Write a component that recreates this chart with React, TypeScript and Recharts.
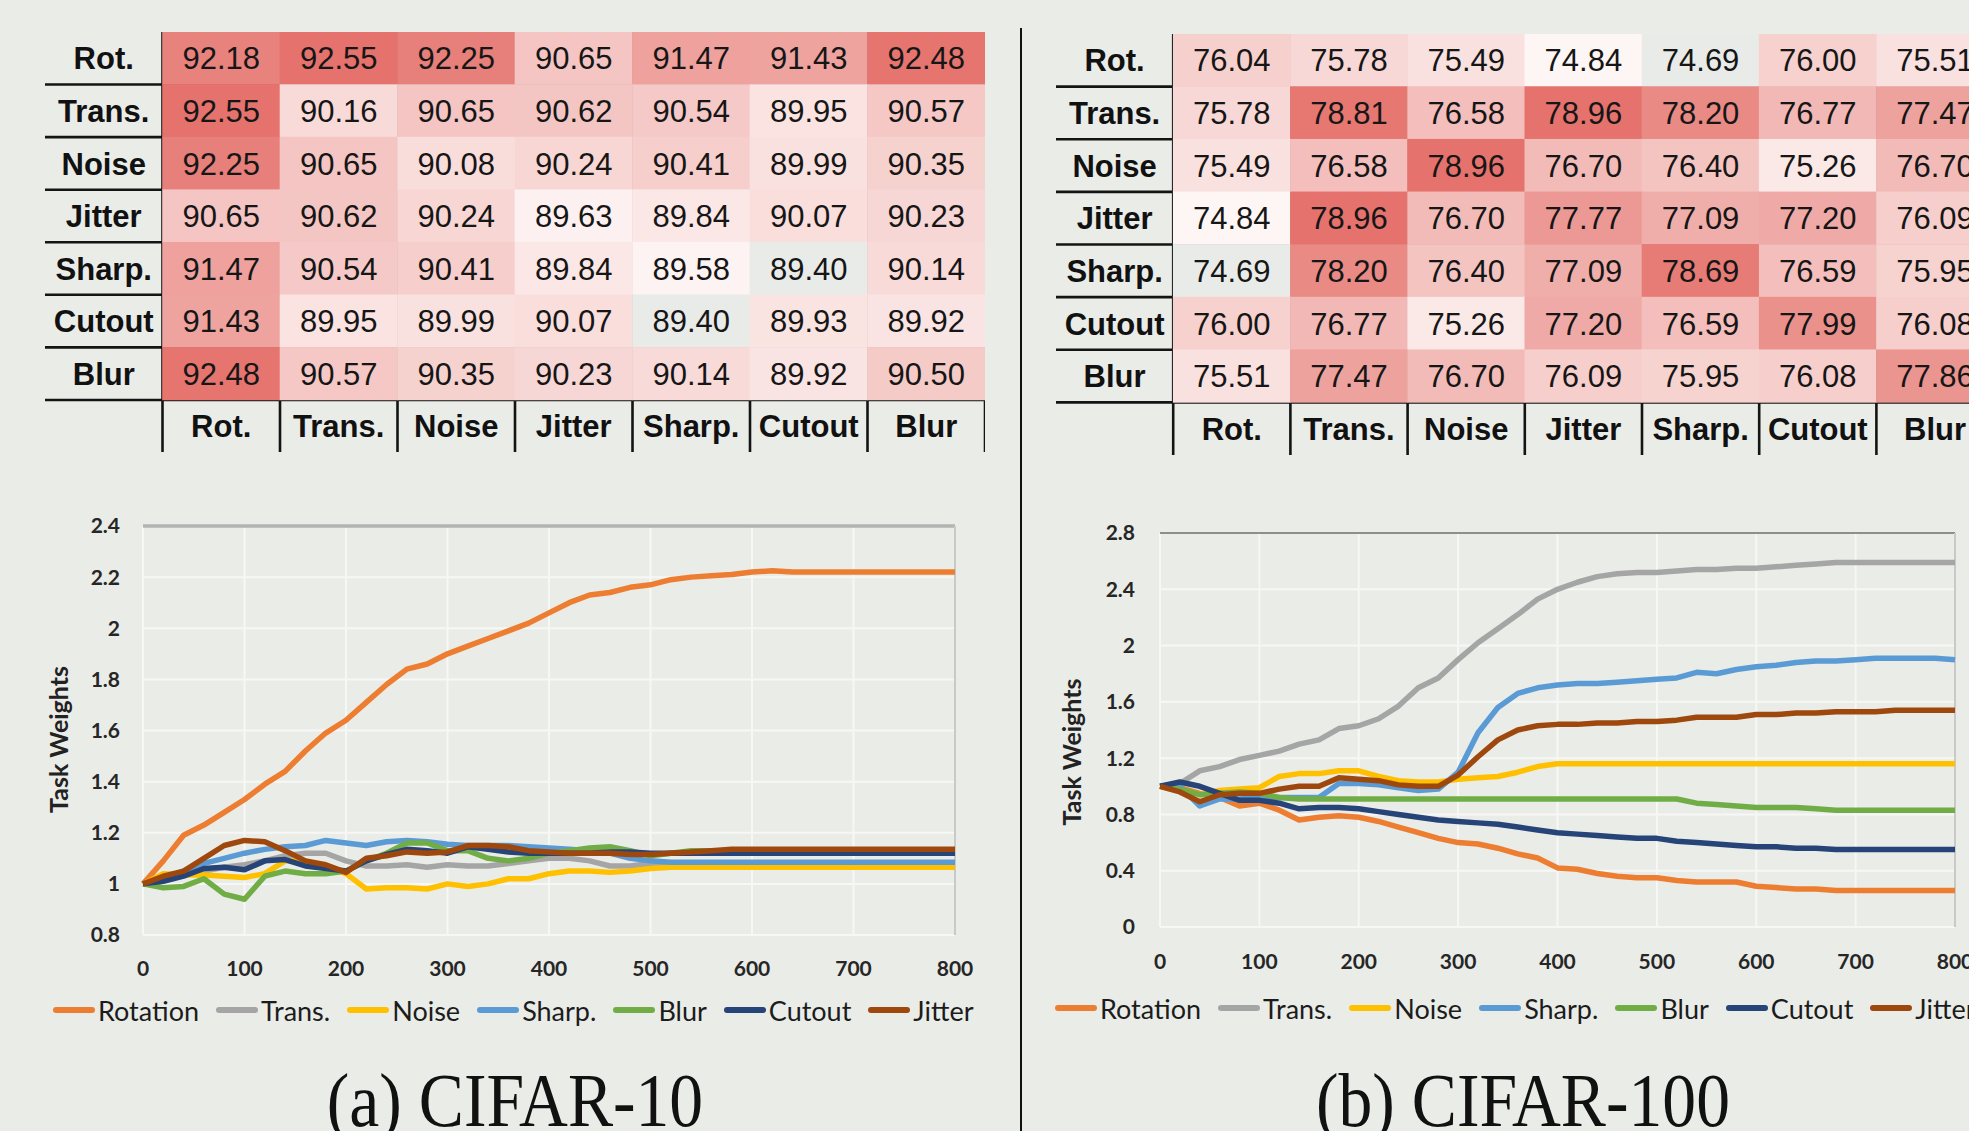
import React from 'react';
import {
  LineChart, Line, XAxis, YAxis, CartesianGrid, Legend, ReferenceLine,
  ScatterChart, Scatter,
} from 'recharts';

// ---------- Heatmap data ----------
const rowLabels = ['Rot.', 'Trans.', 'Noise', 'Jitter', 'Sharp.', 'Cutout', 'Blur'];
const colLabels = ['Rot.', 'Trans.', 'Noise', 'Jitter', 'Sharp.', 'Cutout', 'Blur'];

const cifar10Acc = [
  [92.18, 92.55, 92.25, 90.65, 91.47, 91.43, 92.48],
  [92.55, 90.16, 90.65, 90.62, 90.54, 89.95, 90.57],
  [92.25, 90.65, 90.08, 90.24, 90.41, 89.99, 90.35],
  [90.65, 90.62, 90.24, 89.63, 89.84, 90.07, 90.23],
  [91.47, 90.54, 90.41, 89.84, 89.58, 89.40, 90.14],
  [91.43, 89.95, 89.99, 90.07, 89.40, 89.93, 89.92],
  [92.48, 90.57, 90.35, 90.23, 90.14, 89.92, 90.50],
];
const cifar100Acc = [
  [76.04, 75.78, 75.49, 74.84, 74.69, 76.00, 75.51],
  [75.78, 78.81, 76.58, 78.96, 78.20, 76.77, 77.47],
  [75.49, 76.58, 78.96, 76.70, 76.40, 75.26, 76.70],
  [74.84, 78.96, 76.70, 77.77, 77.09, 77.20, 76.09],
  [74.69, 78.20, 76.40, 77.09, 78.69, 76.59, 75.95],
  [76.00, 76.77, 75.26, 77.20, 76.59, 77.99, 76.08],
  [75.51, 77.47, 76.70, 76.09, 75.95, 76.08, 77.86],
];

// ---------- Line chart data ----------
const xSteps = [0, 20, 40, 60, 80, 100, 120, 140, 160, 180, 200, 220, 240, 260, 280, 300, 320, 340, 360, 380, 400, 420, 440, 460, 480, 500, 520, 540, 560, 580, 600, 620, 640, 660, 680, 700, 720, 740, 760, 780, 800];
const xTicks = [0, 100, 200, 300, 400, 500, 600, 700, 800];
const c10YTicks = [0.8, 1, 1.2, 1.4, 1.6, 1.8, 2, 2.2, 2.4];
const c100YTicks = [0, 0.4, 0.8, 1.2, 1.6, 2, 2.4, 2.8];

const seriesKeys = ['rot', 'trans', 'noise', 'sharp', 'blur', 'cutout', 'jitter'];
const seriesNames = ['Rotation', 'Trans.', 'Noise', 'Sharp.', 'Blur', 'Cutout', 'Jitter'];
const seriesColors = ['#ED7D31', '#A5A5A5', '#FFC000', '#5B9BD5', '#70AD47', '#264478', '#9E480E'];

const c10Rotation = [1.00, 1.09, 1.19, 1.23, 1.28, 1.33, 1.39, 1.44, 1.52, 1.59, 1.64, 1.71, 1.78, 1.84, 1.86, 1.90, 1.93, 1.96, 1.99, 2.02, 2.06, 2.10, 2.13, 2.14, 2.16, 2.17, 2.19, 2.20, 2.205, 2.21, 2.22, 2.225, 2.22, 2.22, 2.22, 2.22, 2.22, 2.22, 2.22, 2.22, 2.22];
const c10Trans = [1.00, 1.02, 1.035, 1.05, 1.065, 1.075, 1.09, 1.11, 1.12, 1.12, 1.09, 1.07, 1.07, 1.075, 1.065, 1.075, 1.07, 1.07, 1.08, 1.09, 1.10, 1.10, 1.09, 1.07, 1.07, 1.08, 1.08, 1.08, 1.08, 1.08, 1.08, 1.08, 1.08, 1.08, 1.08, 1.08, 1.08, 1.08, 1.08, 1.08, 1.08];
const c10Noise = [1.00, 1.04, 1.035, 1.035, 1.03, 1.025, 1.04, 1.09, 1.09, 1.07, 1.04, 0.98, 0.985, 0.985, 0.98, 1.00, 0.99, 1.00, 1.02, 1.02, 1.04, 1.05, 1.05, 1.045, 1.05, 1.06, 1.065, 1.065, 1.065, 1.065, 1.065, 1.065, 1.065, 1.065, 1.065, 1.065, 1.065, 1.065, 1.065, 1.065, 1.065];
const c10Sharp = [1.00, 1.02, 1.05, 1.08, 1.10, 1.12, 1.135, 1.145, 1.15, 1.17, 1.16, 1.15, 1.165, 1.17, 1.165, 1.155, 1.15, 1.15, 1.15, 1.145, 1.14, 1.135, 1.13, 1.12, 1.10, 1.09, 1.085, 1.085, 1.085, 1.085, 1.085, 1.085, 1.085, 1.085, 1.085, 1.085, 1.085, 1.085, 1.085, 1.085, 1.085];
const c10Blur = [1.00, 0.985, 0.99, 1.02, 0.96, 0.94, 1.03, 1.05, 1.04, 1.04, 1.05, 1.09, 1.12, 1.16, 1.16, 1.13, 1.13, 1.10, 1.09, 1.10, 1.12, 1.13, 1.14, 1.145, 1.13, 1.11, 1.12, 1.13, 1.13, 1.125, 1.125, 1.12, 1.12, 1.12, 1.12, 1.12, 1.12, 1.12, 1.12, 1.12, 1.12];
const c10Cutout = [1.00, 1.01, 1.03, 1.06, 1.065, 1.055, 1.09, 1.095, 1.07, 1.06, 1.05, 1.09, 1.115, 1.135, 1.13, 1.12, 1.145, 1.135, 1.125, 1.12, 1.12, 1.12, 1.12, 1.125, 1.125, 1.12, 1.12, 1.12, 1.12, 1.12, 1.12, 1.12, 1.12, 1.12, 1.12, 1.12, 1.12, 1.12, 1.12, 1.12, 1.12];
const c10Jitter = [1.00, 1.03, 1.05, 1.10, 1.15, 1.17, 1.165, 1.13, 1.09, 1.075, 1.045, 1.10, 1.11, 1.125, 1.12, 1.125, 1.15, 1.15, 1.145, 1.13, 1.125, 1.12, 1.12, 1.12, 1.115, 1.115, 1.12, 1.125, 1.13, 1.135, 1.135, 1.135, 1.135, 1.135, 1.135, 1.135, 1.135, 1.135, 1.135, 1.135, 1.135];

const c100Rotation = [1.00, 0.99, 0.95, 0.92, 0.86, 0.88, 0.83, 0.76, 0.78, 0.79, 0.78, 0.75, 0.71, 0.67, 0.63, 0.60, 0.59, 0.56, 0.52, 0.49, 0.42, 0.41, 0.38, 0.36, 0.35, 0.35, 0.33, 0.32, 0.32, 0.32, 0.29, 0.28, 0.27, 0.27, 0.26, 0.26, 0.26, 0.26, 0.26, 0.26, 0.26];
const c100Trans = [1.00, 1.02, 1.11, 1.14, 1.19, 1.22, 1.25, 1.30, 1.33, 1.41, 1.43, 1.48, 1.57, 1.70, 1.77, 1.90, 2.02, 2.12, 2.22, 2.33, 2.40, 2.45, 2.49, 2.51, 2.52, 2.52, 2.53, 2.54, 2.54, 2.55, 2.55, 2.56, 2.57, 2.58, 2.59, 2.59, 2.59, 2.59, 2.59, 2.59, 2.59];
const c100Noise = [1.00, 0.98, 0.94, 0.97, 0.98, 0.99, 1.07, 1.09, 1.09, 1.11, 1.11, 1.07, 1.04, 1.03, 1.03, 1.05, 1.06, 1.07, 1.10, 1.14, 1.16, 1.16, 1.16, 1.16, 1.16, 1.16, 1.16, 1.16, 1.16, 1.16, 1.16, 1.16, 1.16, 1.16, 1.16, 1.16, 1.16, 1.16, 1.16, 1.16, 1.16];
const c100Sharp = [1.00, 1.00, 0.86, 0.91, 0.91, 0.92, 0.92, 0.92, 0.92, 1.02, 1.02, 1.01, 0.99, 0.97, 0.98, 1.10, 1.38, 1.56, 1.66, 1.70, 1.72, 1.73, 1.73, 1.74, 1.75, 1.76, 1.77, 1.81, 1.80, 1.83, 1.85, 1.86, 1.88, 1.89, 1.89, 1.90, 1.91, 1.91, 1.91, 1.91, 1.90];
const c100Blur = [1.00, 0.98, 0.94, 0.95, 0.96, 0.95, 0.92, 0.91, 0.91, 0.91, 0.91, 0.91, 0.91, 0.91, 0.91, 0.91, 0.91, 0.91, 0.91, 0.91, 0.91, 0.91, 0.91, 0.91, 0.91, 0.91, 0.91, 0.88, 0.87, 0.86, 0.85, 0.85, 0.85, 0.84, 0.83, 0.83, 0.83, 0.83, 0.83, 0.83, 0.83];
const c100Cutout = [1.00, 1.03, 1.00, 0.95, 0.90, 0.90, 0.88, 0.84, 0.85, 0.85, 0.84, 0.82, 0.80, 0.78, 0.76, 0.75, 0.74, 0.73, 0.71, 0.69, 0.67, 0.66, 0.65, 0.64, 0.63, 0.63, 0.61, 0.60, 0.59, 0.58, 0.57, 0.57, 0.56, 0.56, 0.55, 0.55, 0.55, 0.55, 0.55, 0.55, 0.55];
const c100Jitter = [1.00, 0.96, 0.89, 0.94, 0.95, 0.95, 0.98, 1.00, 1.00, 1.06, 1.05, 1.04, 1.01, 1.00, 1.00, 1.08, 1.21, 1.33, 1.40, 1.43, 1.44, 1.44, 1.45, 1.45, 1.46, 1.46, 1.47, 1.49, 1.49, 1.49, 1.51, 1.51, 1.52, 1.52, 1.53, 1.53, 1.53, 1.54, 1.54, 1.54, 1.54];

const captions = ['(a) CIFAR-10', '(b) CIFAR-100'];

// ---------- helpers ----------
const BG = '#eaece8';
const MIN_CELL = '#e8ebe8';
const LO = [254, 251, 250];
const HI = [229, 114, 108];

function heatColor(v: number, min: number, max: number) {
  if (v <= min + 1e-9) return MIN_CELL;
  const t = (v - min) / (max - min);
  const c = LO.map((l, i) => Math.round(l + (HI[i] - l) * t));
  return `rgb(${c[0]},${c[1]},${c[2]})`;
}

function buildRows(cols: number[][]) {
  return xSteps.map((x, i) => {
    const row: any = { x };
    seriesKeys.forEach((k, j) => { row[k] = cols[j][i]; });
    return row;
  });
}

const c10Rows = buildRows([c10Rotation, c10Trans, c10Noise, c10Sharp, c10Blur, c10Cutout, c10Jitter]);
const c100Rows = buildRows([c100Rotation, c100Trans, c100Noise, c100Sharp, c100Blur, c100Cutout, c100Jitter]);

// ---------- Heatmap ----------
function Heatmap({ matrix, left, top, width, height }: any) {
  const flat = matrix.flat();
  const min = Math.min(...flat);
  const max = Math.max(...flat);
  const cw = width / 8;
  const ch = height / 8;
  const cells: any[] = [];
  matrix.forEach((row: number[], r: number) => row.forEach((v, c) => {
    cells.push({ x: c + 0.5, y: r + 0.5, v, fill: heatColor(v, min, max) });
  }));
  const rowPts = rowLabels.map((l, i) => ({ x: -0.5, y: i + 0.5, label: l }));
  const colPts = colLabels.map((l, i) => ({ x: i + 0.5, y: 7.5, label: l }));

  const cellShape = (p: any) => (
    <g>
      <rect x={p.cx - cw / 2 - 0.3} y={p.cy - ch / 2 - 0.3} width={cw + 0.6} height={ch + 0.6} fill={p.payload.fill} />
      <text x={p.cx} y={p.cy} dy="0.36em" textAnchor="middle" fontFamily="'Liberation Sans', Arial, sans-serif" fontSize={31} fill="#161616">
        {p.payload.v.toFixed(2)}
      </text>
    </g>
  );
  const labelShape = (p: any) => (
    <text x={p.cx} y={p.cy} dy="0.36em" textAnchor="middle" fontFamily="'Liberation Sans', Arial, sans-serif" fontWeight={700} fontSize={31} fill="#111">
      {p.payload.label}
    </text>
  );

  const hLines = [1, 2, 3, 4, 5, 6, 7];
  const vLines = [0, 1, 2, 3, 4, 5, 6, 7];

  return (
    <div style={{ position: 'absolute', left, top }}>
      <ScatterChart width={width} height={height} margin={{ top: 0, right: 0, bottom: 0, left: 0 }}>
        <XAxis type="number" dataKey="x" domain={[-1, 7]} hide />
        <YAxis type="number" dataKey="y" domain={[0, 8]} reversed hide />
        <Scatter data={cells} shape={cellShape} isAnimationActive={false} />
        <Scatter data={rowPts} shape={labelShape} isAnimationActive={false} />
        <Scatter data={colPts} shape={labelShape} isAnimationActive={false} />
        {hLines.map((y) => (
          <ReferenceLine key={'h' + y} segment={[{ x: -1, y }, { x: 7, y }]} stroke="#141414" strokeWidth={2.6} ifOverflow="visible" />
        ))}
        {vLines.map((x) => (
          <ReferenceLine key={'v' + x} segment={[{ x, y: 0 }, { x, y: 8 }]} stroke="#141414" strokeWidth={2.6} ifOverflow="visible" />
        ))}
      </ScatterChart>
    </div>
  );
}

// ---------- Line chart ----------
const makeLegend = (padLeft: number) => (props: any) => {
  const items = [...(props.payload || [])].sort(
    (a: any, b: any) => seriesNames.indexOf(a.value) - seriesNames.indexOf(b.value),
  );
  return (
    <div style={{ display: 'flex', alignItems: 'center', height: 30, paddingLeft: padLeft, whiteSpace: 'nowrap', fontFamily: 'Lato, sans-serif', fontSize: 27, color: '#1c1c1c' }}>
      {items.map((it: any) => (
        <span key={it.value} style={{ display: 'inline-flex', alignItems: 'center', marginRight: 17 }}>
          <span style={{ display: 'inline-block', width: 42, height: 6, borderRadius: 3, background: it.color, marginRight: 3 }} />
          <span>{it.value}</span>
        </span>
      ))}
    </div>
  );
};

const tickStyle = { fontFamily: 'Lato, sans-serif', fontSize: 21, fontWeight: 700, fill: '#262626' };

function WeightsChart({ rows, yDomain, yTicks, left, top, width, height, margin, yWidth, xHeight, yTickMargin, xTickMargin, labelX, labelDy, legendPad, topLine }: any) {
  const yLabel = (p: any) => {
    const vb = p.viewBox || { x: 0, y: margin.top, width: yWidth, height: 400 };
    const cx = vb.x + labelX;
    const cy = vb.y + vb.height / 2 + labelDy;
    return (
      <text x={cx} y={cy} transform={`rotate(-90, ${cx}, ${cy})`} textAnchor="middle" dy="0.35em" fontFamily="Lato, sans-serif" fontWeight={700} fontSize={25} fill="#222">
        Task Weights
      </text>
    );
  };
  return (
    <div style={{ position: 'absolute', left, top }}>
      <LineChart width={width} height={height} data={rows} margin={margin}>
        <CartesianGrid stroke="#f7f7f5" strokeWidth={2} />
        <XAxis dataKey="x" type="number" domain={[0, 800]} ticks={xTicks} interval={0} tickLine={false} axisLine={false} tickSize={0} tickMargin={xTickMargin} height={xHeight} tick={tickStyle} />
        <YAxis type="number" domain={yDomain} ticks={yTicks} interval={0} tickLine={false} axisLine={false} tickSize={0} tickMargin={yTickMargin} width={yWidth} tick={tickStyle} label={yLabel} />
        <ReferenceLine y={yDomain[1]} stroke={topLine.color} strokeWidth={topLine.width} />
        <ReferenceLine x={800} stroke="#c9c9c9" strokeWidth={2} />
        {seriesKeys.map((k, i) => (
          <Line key={k} type="linear" dataKey={k} name={seriesNames[i]} stroke={seriesColors[i]} strokeWidth={5.5} dot={false} activeDot={false} isAnimationActive={false} strokeLinejoin="round" />
        ))}
        <Legend verticalAlign="bottom" align="left" content={makeLegend(legendPad)} />
      </LineChart>
    </div>
  );
}

const captionStyle: any = {
  position: 'absolute', top: 1062, height: 76, lineHeight: '76px', textAlign: 'center',
  fontFamily: "'Liberation Serif', 'Times New Roman', serif", fontSize: 76, color: '#111',
  transform: 'scaleX(0.89)', whiteSpace: 'nowrap',
};

export default function App() {
  return (
    <div style={{ position: 'absolute', left: 0, top: 0, width: 1969, height: 1131, overflow: 'hidden', background: BG }}>
      <Heatmap matrix={cifar10Acc} left={45} top={31.5} width={940} height={420.5} />
      <Heatmap matrix={cifar100Acc} left={1056} top={34} width={937.6} height={421} />

      <WeightsChart
        rows={c10Rows} yDomain={[0.8, 2.4]} yTicks={c10YTicks}
        left={0} top={490} width={1000} height={560}
        margin={{ top: 36, right: 45, left: 0, bottom: 25 }}
        yWidth={143} xHeight={60} yTickMargin={23} xTickMargin={26}
        labelX={59} labelDy={9} legendPad={53}
        topLine={{ color: '#b3b3b3', width: 3.5 }}
      />
      <WeightsChart
        rows={c100Rows} yDomain={[0, 2.8]} yTicks={c100YTicks}
        left={1022} top={490} width={1000} height={560}
        margin={{ top: 43, right: 67, left: 0, bottom: 27 }}
        yWidth={138} xHeight={66} yTickMargin={25} xTickMargin={27}
        labelX={50} labelDy={22} legendPad={33}
        topLine={{ color: '#6b6b6b', width: 1.6 }}
      />

      <div style={{ position: 'absolute', left: 1020, top: 28, width: 2, height: 1103, background: '#111' }} />
      <div style={{ ...captionStyle, left: 0, width: 1030 }}>{captions[0]}</div>
      <div style={{ ...captionStyle, left: 1022, width: 1002 }}>{captions[1]}</div>
    </div>
  );
}
